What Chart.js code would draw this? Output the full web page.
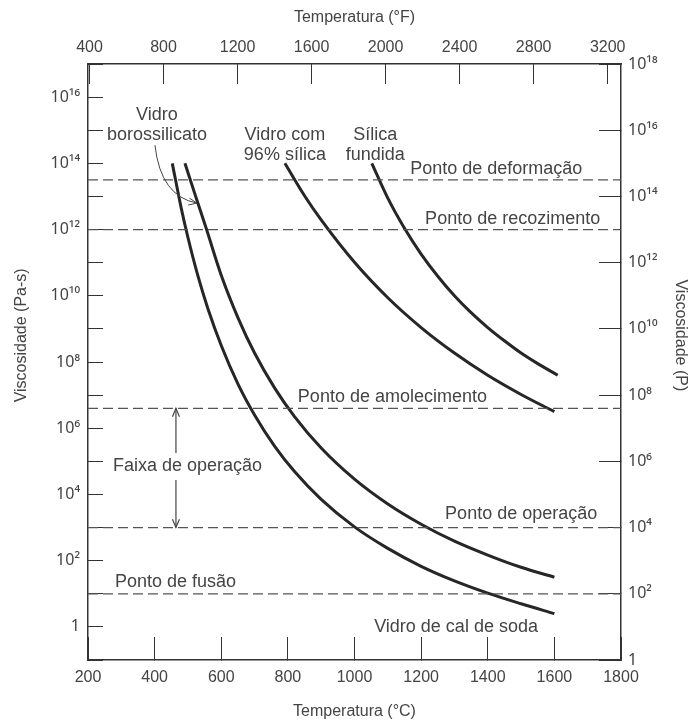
<!DOCTYPE html>
<html>
<head>
<meta charset="utf-8">
<script src="https://cdn.jsdelivr.net/npm/chart.js@4.4.1/dist/chart.umd.min.js"></script>
<style>
  body { margin: 0; background: #fff; }
  canvas { display: block; }
</style>
</head>
<body>
<canvas id="viscosidade" width="692" height="722"></canvas>
<script>
// eixos
const ticksC = [200, 400, 600, 800, 1000, 1200, 1400, 1600, 1800];
const ticksF = [400, 800, 1200, 1600, 2000, 2400, 2800, 3200];
const ticksPas = [-1, 0, 1, 2, 3, 4, 5, 6, 7, 8, 9, 10, 11, 12, 13, 14, 15, 16, 17]; // log10 Pa-s
const ticksP = [0, 2, 4, 6, 8, 10, 12, 14, 16, 18]; // log10 P

// curvas (temperatura em °C, log10 da viscosidade em Pa-s)
const tempSoda = [453, 480, 500, 530, 560, 600, 650, 700, 760, 820, 900, 1000, 1100, 1200, 1300, 1400, 1500, 1600];
const logSoda = [14.0, 12.64, 11.76, 10.6, 9.61, 8.5, 7.34, 6.4, 5.46, 4.69, 3.85, 3.02, 2.37, 1.83, 1.39, 1.02, 0.7, 0.4];

const tempBoro = [491, 520, 556, 600, 650, 700, 760, 820, 900, 1000, 1100, 1200, 1300, 1400, 1500, 1600];
const logBoro = [14.0, 13.1, 12.0, 10.62, 9.34, 8.27, 7.22, 6.35, 5.4, 4.46, 3.71, 3.1, 2.59, 2.17, 1.8, 1.5];

const temp96 = [791, 850, 900, 1000, 1100, 1200, 1300, 1400, 1500, 1600];
const log96 = [14.0, 13.02, 12.29, 11.01, 9.94, 9.04, 8.27, 7.6, 7.02, 6.5];

const tempFundida = [1052, 1100, 1150, 1200, 1250, 1300, 1350, 1400, 1450, 1500, 1550, 1610];
const logFundida = [14.0, 12.95, 12.04, 11.26, 10.59, 10.0, 9.49, 9.04, 8.64, 8.27, 7.95, 7.6];

// pontos de referencia (log10 Pa-s)
const pontos = [13.5, 12, 6.6, 3, 1];

const fonte = '"Liberation Sans", Arial, sans-serif';
const fonteSup = '"Noto Sans", "Liberation Sans", sans-serif';
const corTexto = "#444";
const corLinha = "#333";

const sup = { "0": "⁰", "1": "¹", "2": "²", "3": "³", "4": "⁴", "5": "⁵", "6": "⁶", "7": "⁷", "8": "⁸", "9": "⁹" };
function potencia(n) {
  if (n === 0) return "1";
  return "10" + String(n).split("").map((c) => sup[c]).join("");
}

function serie(temps, logs) {
  return temps.map((t, i) => ({ x: t, y: logs[i] }));
}

const datasets = [];
pontos.forEach((p) => {
  datasets.push({
    data: [{ x: 200, y: p }, { x: 1800, y: p }],
    borderColor: "#555",
    borderWidth: 1.2,
    borderDash: [10, 5],
    pointRadius: 0,
  });
});
[[tempSoda, logSoda], [tempBoro, logBoro], [temp96, log96], [tempFundida, logFundida]].forEach((c) => {
  datasets.push({
    data: serie(c[0], c[1]),
    borderColor: "#262626",
    borderWidth: 3,
    pointRadius: 0,
    cubicInterpolationMode: "monotone",
  });
});

// textos e setas
const textos = [
  { t: "Vidro", x: 407, y: 15.46, a: "center" },
  { t: "borossilicato", x: 407, y: 14.86, a: "center" },
  { t: "Vidro com", x: 791, y: 14.86, a: "center" },
  { t: "96% sílica", x: 791, y: 14.25, a: "center" },
  { t: "Sílica", x: 1062, y: 14.86, a: "center" },
  { t: "fundida", x: 1062, y: 14.25, a: "center" },
  { t: "Ponto de deformação", x: 1167, y: 13.83, a: "left" },
  { t: "Ponto de recozimento", x: 1212, y: 12.32, a: "left" },
  { t: "Ponto de amolecimento", x: 830, y: 6.94, a: "left" },
  { t: "Faixa de operação", x: 275, y: 4.86, a: "left" },
  { t: "Ponto de operação", x: 1272, y: 3.41, a: "left" },
  { t: "Ponto de fusão", x: 281, y: 1.36, a: "left" },
  { t: "Vidro de cal de soda", x: 1059, y: 0.0, a: "left" },
];

function ponta(ctx, x0, y0, x1, y1) {
  const ang = Math.atan2(y1 - y0, x1 - x0);
  const l = 9;
  ctx.beginPath();
  ctx.moveTo(x1 - l * Math.cos(ang - 0.4), y1 - l * Math.sin(ang - 0.4));
  ctx.lineTo(x1, y1);
  ctx.lineTo(x1 - l * Math.cos(ang + 0.4), y1 - l * Math.sin(ang + 0.4));
  ctx.stroke();
}

const anotacoes = {
  id: "anotacoes",
  afterDatasetsDraw(chart) {
    const ctx = chart.ctx;
    const sx = chart.scales.x;
    const sy = chart.scales.y;
    ctx.save();
    ctx.fillStyle = corTexto;
    ctx.font = "18px " + fonte;
    ctx.textBaseline = "middle";
    textos.forEach((o) => {
      ctx.textAlign = o.a;
      ctx.fillText(o.t, sx.getPixelForValue(o.x), sy.getPixelForValue(o.y));
    });

    // faixa de operacao
    ctx.strokeStyle = "#444";
    ctx.lineWidth = 1.2;
    const xa = sx.getPixelForValue(464);
    const yTopo = sy.getPixelForValue(6.6);
    const yCorte1 = sy.getPixelForValue(5.25);
    const yCorte2 = sy.getPixelForValue(4.44);
    const yBase = sy.getPixelForValue(3.0);
    ctx.beginPath();
    ctx.moveTo(xa, yCorte1);
    ctx.lineTo(xa, yTopo);
    ctx.moveTo(xa, yCorte2);
    ctx.lineTo(xa, yBase);
    ctx.stroke();
    ponta(ctx, xa, yCorte1, xa, yTopo);
    ponta(ctx, xa, yCorte2, xa, yBase);

    // seta do borossilicato
    const p0 = [sx.getPixelForValue(401), sy.getPixelForValue(14.55)];
    const pc = [sx.getPixelForValue(418), sy.getPixelForValue(13.0)];
    const p1 = [sx.getPixelForValue(527), sy.getPixelForValue(12.8)];
    ctx.lineWidth = 1;
    ctx.beginPath();
    ctx.moveTo(p0[0], p0[1]);
    ctx.quadraticCurveTo(pc[0], pc[1], p1[0], p1[1]);
    ctx.stroke();
    ponta(ctx, pc[0], pc[1], p1[0], p1[1]);
    ctx.restore();
  },
};

const fonteEixo = { family: fonte, size: 16 };
const fonteY = { family: fonteSup, size: 16 };
const nbsp = "\u00a0".repeat(12);

new Chart(document.getElementById("viscosidade"), {
  type: "line",
  data: { datasets: datasets },
  options: {
    responsive: false,
    animation: false,
    layout: { padding: 0 },
    plugins: { legend: { display: false }, tooltip: { enabled: false } },
    scales: {
      x: {
        type: "linear",
        position: "bottom",
        min: 200,
        max: 1800,
        afterBuildTicks: (s) => { s.ticks = ticksC.map((v) => ({ value: v })); },
        afterFit: (s) => { s.height = 62; },
        grid: { drawOnChartArea: false, tickLength: -23, color: corLinha, lineWidth: 1 },
        border: { display: true, color: corLinha, width: 1.5 },
        ticks: { padding: 31, color: corTexto, font: fonteEixo, maxRotation: 0, callback: (v) => String(v) },
        title: { display: true, text: "Temperatura (°C)", color: corTexto, font: fonteEixo, padding: { top: 0, bottom: 1 } },
      },
      xTop: {
        type: "linear",
        position: "top",
        min: 392,
        max: 3272,
        afterBuildTicks: (s) => { s.ticks = ticksF.map((v) => ({ value: v })); },
        afterFit: (s) => { s.height = 64; },
        grid: { drawOnChartArea: false, tickLength: -20, color: corLinha, lineWidth: 1 },
        border: { display: true, color: corLinha, width: 1.5 },
        ticks: { padding: 27, color: corTexto, font: fonteEixo, maxRotation: 0, callback: (v) => String(v) },
        title: { display: true, text: "Temperatura (°F)", color: corTexto, font: fonteEixo, padding: { top: 8, bottom: 0 } },
      },
      y: {
        type: "linear",
        position: "left",
        min: -1,
        max: 17,
        afterBuildTicks: (s) => { s.ticks = ticksPas.map((v) => ({ value: v })); },
        afterFit: (s) => { s.width = 88; },
        grid: { drawOnChartArea: false, tickLength: -15, color: corLinha, lineWidth: 1 },
        border: { display: true, color: corLinha, width: 1.5 },
        ticks: {
          padding: 23,
          color: corTexto,
          font: fonteY,
          callback: (v) => (v >= 0 && v % 2 === 0 ? potencia(v) : ""),
        },
        title: { display: true, text: nbsp + "Viscosidade (Pa-s)", color: corTexto, font: fonteEixo, padding: { top: 12, bottom: 0 } },
      },
      yP: {
        type: "linear",
        position: "right",
        min: 0,
        max: 18,
        afterBuildTicks: (s) => { s.ticks = ticksP.map((v) => ({ value: v })); },
        afterFit: (s) => { s.width = 71; },
        grid: { drawOnChartArea: false, tickLength: -22, color: corLinha, lineWidth: 1 },
        border: { display: true, color: corLinha, width: 1.5 },
        ticks: { padding: 29, color: corTexto, font: fonteY, callback: (v) => potencia(v) },
        title: { display: true, text: "Viscosidade (P)" + nbsp, color: corTexto, font: fonteEixo, padding: { top: 2, bottom: 0 } },
      },
    },
  },
  plugins: [anotacoes],
});
</script>
</body>
</html>
